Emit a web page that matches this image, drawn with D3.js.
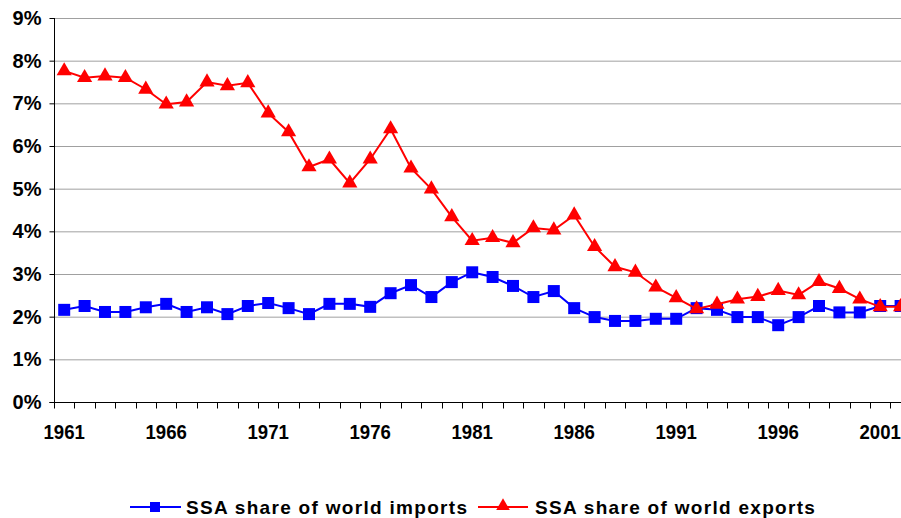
<!DOCTYPE html>
<html><head><meta charset="utf-8">
<script src="https://cdn.jsdelivr.net/npm/d3@7"></script>
<style>html,body{margin:0;padding:0;background:#fff;overflow:hidden}</style>
</head><body>
<svg id="c" width="901" height="518"></svg>
<script>
const years = d3.range(1961, 2003);
const yearLabels = ["1961","1966","1971","1976","1981","1986","1991","1996","2001"];
const yTicks = [0,1,2,3,4,5,6,7,8,9];
const imports = [2.16,2.25,2.11,2.11,2.22,2.30,2.11,2.22,2.06,2.25,2.32,2.20,2.06,2.30,2.30,2.23,2.55,2.74,2.46,2.81,3.04,2.93,2.72,2.46,2.60,2.20,1.99,1.90,1.90,1.95,1.95,2.20,2.16,1.99,1.99,1.80,1.99,2.25,2.10,2.10,2.25,2.25];
const exportsS = [7.76,7.60,7.64,7.60,7.33,6.98,7.03,7.50,7.41,7.48,6.77,6.33,5.51,5.69,5.13,5.69,6.40,5.48,4.99,4.34,3.78,3.85,3.73,4.08,4.03,4.38,3.64,3.17,3.04,2.69,2.44,2.18,2.29,2.41,2.47,2.61,2.51,2.82,2.66,2.41,2.23,2.23];
const seriesNames = ["SSA share of world imports","SSA share of world exports"];

const svg = d3.select("#c");
const L = 54, T = 18, B = 402, bandW = 20.4;
const x = d3.scaleBand().domain(years).range([L, L + years.length * bandW]);
const y = d3.scaleLinear().domain([0, 9]).range([B, T]);
const cx = d => x(d) + x.bandwidth() / 2;
const font = "Liberation Sans, Arial, sans-serif";

// gridlines
svg.append("g").selectAll("line").data(yTicks.filter(d => d > 0)).join("line")
  .attr("x1", L).attr("x2", 901).attr("y1", d => y(d) + 0.5).attr("y2", d => y(d) + 0.5)
  .attr("stroke", "#a0a0a0").attr("stroke-width", 1);

// y axis
const ya = svg.append("g").attr("transform", `translate(${L + 0.5},0)`)
  .call(d3.axisLeft(y).tickValues(yTicks).tickFormat(d => d + "%").tickSize(5).tickPadding(8));
ya.select(".domain").attr("stroke", "#000").attr("d", `M-5,${B + 0.5}H0V${T}`);
ya.selectAll(".tick line").attr("stroke", "#000");
ya.selectAll("text").attr("font-family", font).attr("font-size", 20).attr("font-weight", "bold").attr("fill", "#000");

// x axis
const xa = svg.append("g").attr("transform", `translate(0,${B + 0.5})`);
xa.append("line").attr("x1", L).attr("x2", 901).attr("y1", 0).attr("y2", 0).attr("stroke", "#000");
xa.selectAll("line.tk").data(years.concat([years[years.length - 1] + 1])).join("line").attr("class", "tk")
  .attr("x1", (d, i) => Math.round(L + i * bandW) + 0.5).attr("x2", (d, i) => Math.round(L + i * bandW) + 0.5)
  .attr("y1", 0).attr("y2", 6).attr("stroke", "#000");
xa.selectAll("text").data(yearLabels).join("text")
  .attr("transform", d => `translate(${cx(+d)},36) scale(0.93,1)`).attr("text-anchor", "middle")
  .attr("font-family", font).attr("font-size", 20).attr("font-weight", "bold").text(d => d);

// lines
const line = d3.line().x((d, i) => cx(years[i])).y(d => y(d));
svg.append("path").datum(imports).attr("d", line).attr("fill", "none").attr("stroke", "#0000ff").attr("stroke-width", 2);
svg.append("g").selectAll("rect").data(imports).join("rect")
  .attr("x", (d, i) => cx(years[i]) - 6).attr("y", d => y(d) - 6).attr("width", 12).attr("height", 12).attr("fill", "#0000ff");
svg.append("path").datum(exportsS).attr("d", line).attr("fill", "none").attr("stroke", "#ff0000").attr("stroke-width", 2);
const tri = d3.symbol().type(d3.symbolTriangle).size(100);
svg.append("g").selectAll("path").data(exportsS).join("path")
  .attr("d", tri).attr("transform", (d, i) => `translate(${cx(years[i])},${y(d)})`).attr("fill", "#ff0000");

// legend
const lg = svg.append("g");
lg.append("line").attr("x1", 130).attr("x2", 181).attr("y1", 507).attr("y2", 507).attr("stroke", "#0000ff").attr("stroke-width", 2);
lg.append("rect").attr("x", 150).attr("y", 502).attr("width", 10).attr("height", 10).attr("fill", "#0000ff");
lg.append("text").attr("x", 186).attr("y", 514).attr("font-family", font).attr("font-size", 19).attr("font-weight", "bold")
  .attr("letter-spacing", 1.3).text(seriesNames[0]);
lg.append("line").attr("x1", 478).attr("x2", 528).attr("y1", 507).attr("y2", 507).attr("stroke", "#ff0000").attr("stroke-width", 2);
lg.append("path").attr("d", d3.symbol().type(d3.symbolTriangle).size(80)).attr("transform", "translate(503,506)").attr("fill", "#ff0000");
lg.append("text").attr("x", 535).attr("y", 514).attr("font-family", font).attr("font-size", 19).attr("font-weight", "bold")
  .attr("letter-spacing", 1.3).text(seriesNames[1]);
</script>
</body></html>
